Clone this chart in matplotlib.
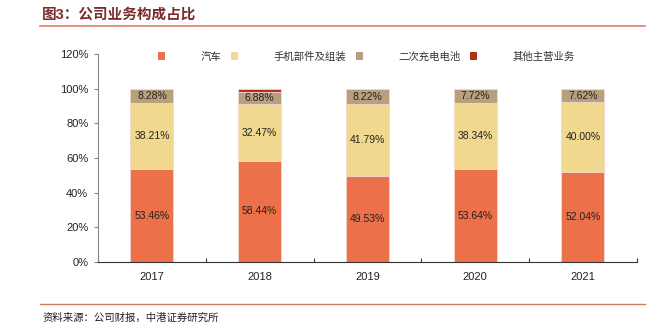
import matplotlib.pyplot as plt
from matplotlib.patches import Patch
from matplotlib.lines import Line2D

plt.rcParams['font.family'] = ['Liberation Sans', 'Noto Sans CJK SC', 'DejaVu Sans']

years = ['2017', '2018', '2019', '2020', '2021']
series_names = ['汽车', '手机部件及组装', '二次充电电池', '其他主营业务']
auto = [53.46, 58.44, 49.53, 53.64, 52.04]
phone = [38.21, 32.47, 41.79, 38.34, 40.00]
battery = [8.28, 6.88, 8.22, 7.72, 7.62]
other = [0.05, 2.21, 0.46, 0.30, 0.34]
colors = ['#EC7049', '#F0D98F', '#B8A07F', '#B2301A']

fig = plt.figure(figsize=(6.58, 3.29), dpi=100)
fig.set_facecolor('white')
ax = fig.add_axes([0.149, 0.2036, 0.8187, 0.6324])

x = list(range(len(years)))
bottom = [0.0] * len(years)
for vals, col, name in zip([auto, phone, battery, other], colors, series_names):
    ax.bar(x, vals, width=0.4, bottom=bottom, color=col, edgecolor='#F4D6CC',
           linewidth=0.6, label=name, zorder=2)
    # only the three main segments carry value labels
    if name != '其他主营业务':
        for xi, v, b in zip(x, vals, bottom):
            ax.text(xi, b + v / 2, f'{v:.2f}%', ha='center', va='center',
                    fontsize=7.5, color='#222222',
                    family=['Liberation Sans', 'DejaVu Sans'])
    bottom = [b + v for b, v in zip(bottom, vals)]

ax.set_xlim(-0.5, len(years) - 0.5)
ax.set_ylim(0, 120)
ax.set_yticks(range(0, 121, 20))
ax.set_yticklabels([f'{t}%' for t in range(0, 121, 20)], fontsize=8)
ax.tick_params(axis='y', direction='out', length=3, color='#888888',
               colors='#222222', pad=4)

# category labels in the middle, boundary ticks pointing up
ax.set_xticks([i + 0.5 for i in range(-1, len(years))])
ax.set_xticklabels([])
ax.tick_params(axis='x', direction='in', length=3, color='#333333')
for xi, yr in zip(x, years):
    ax.text(xi, -5.5, yr, ha='center', va='top', fontsize=8, color='#222222')

for s in ['top', 'right']:
    ax.spines[s].set_visible(False)
ax.spines['left'].set_color('#888888')
ax.spines['bottom'].set_color('#333333')

handles = [Patch(facecolor=c) for c in colors]
fig.legend(handles, series_names, loc='center', bbox_to_anchor=(0.557, 0.828),
           ncol=4, frameon=False, fontsize=7.5, handlelength=0.7,
           handleheight=0.7, handletextpad=3.4, columnspacing=0.9,
           labelcolor='#333333')

# header and footer
fig.text(0.064, 0.955, '图3：公司业务构成占比', fontsize=10.5, fontweight='bold',
         color='#7A2B2B', va='center', ha='left')
fig.add_artist(Line2D([0.061, 0.981], [0.921, 0.921], color='#D9826A',
                      linewidth=1.2, transform=fig.transFigure))
fig.add_artist(Line2D([0.061, 0.981], [0.077, 0.077], color='#D27A66',
                      linewidth=1.0, transform=fig.transFigure))
fig.text(0.064, 0.033, '资料来源：公司财报，中港证券研究所', fontsize=7.5,
         style='italic', color='#222222', va='center', ha='left')

fig.savefig('out.png', dpi=100, facecolor='white')
